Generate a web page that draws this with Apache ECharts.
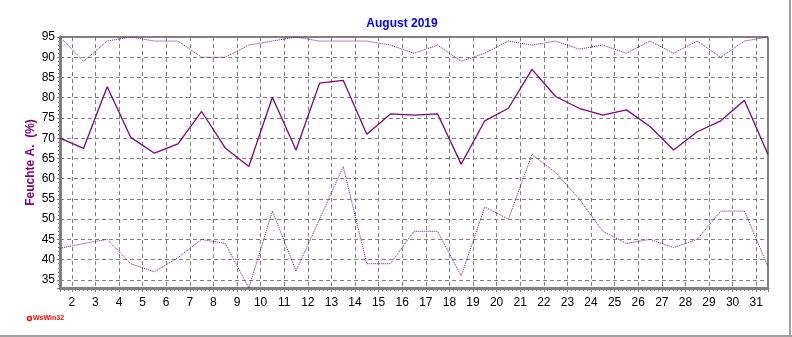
<!DOCTYPE html>
<html>
<head>
<meta charset="utf-8">
<script src="https://cdn.jsdelivr.net/npm/echarts@6/dist/echarts.min.js"></script>
<style>
html,body{margin:0;padding:0;background:#fff;}
#chart{width:792px;height:337px;}
</style>
</head>
<body>
<div id="chart"></div>
<script>
// Day positions (noon of each day of August 2019)
const days = [1,2,3,4,5,6,7,8,9,10,11,12,13,14,15,16,17,18,19,20,21,22,23,24,25,26,27,28,29,30,31];
// Mean humidity (solid)
const avgValues = [70,67.5,82.7,70.2,66.3,68.6,76.6,67.6,63,80.1,67.1,83.6,84.3,71,76,75.7,76,63.6,74.3,77.4,87,80.3,77.4,75.7,77,72.9,67.1,71.6,74.3,79.4,66];
// Maximum humidity (dotted, upper)
const maxValues = [95,89,94,95,94,94,90,90,93,94,95,94,94,94,93,91,93,89,91,94,93,94,92,93,91,94,91,94,90,94,95];
// Minimum humidity (dotted, lower)
const minValues = [42.8,44,45,39,37,40.5,45,44,33,52,37.2,50,63,39,39,47,47,36,53,50,66,61.5,55,47,44,45,43,45,52,52,38.3];
const yTicks = [35,40,45,50,55,60,65,70,75,80,85,90,95];

const toXY = arr => arr.map((v,i) => [days[i] + 0.5, v]);
const purple = '#800080';

const chart = echarts.init(document.getElementById('chart'), null, {renderer:'canvas'});
chart.setOption({
  animation:false,
  backgroundColor:'#ffffff',
  title:{
    text:'August 2019', left:397, top:13, textAlign:'center',
    textStyle:{color:'#0000ff', fontSize:12, fontWeight:'bold', fontFamily:'Liberation Sans, Arial, sans-serif'}
  },
  grid:{left:60, right:24, top:37, bottom:49, show:true, borderColor:'#000', borderWidth:1, containLabel:false},
  xAxis:{
    type:'value', min:1.5, max:31.5, splitNumber:30, minInterval:1, maxInterval:1,
    axisLine:{show:true, onZero:false, lineStyle:{color:'#808080', width:3}},
    axisTick:{show:true, length:4, lineStyle:{color:'#808080'}},
    minorTick:{show:true, splitNumber:6, length:3, lineStyle:{color:'#808080'}},
    splitLine:{show:true, lineStyle:{color:'#808080', type:[4,3], width:1}},
    axisLabel:{color:'#000', fontSize:12, margin:9, fontFamily:'Liberation Sans, Arial, sans-serif',
      formatter: v => (Math.abs(v - Math.round(v)) < 1e-6 && days.indexOf(Math.round(v)) >= 1) ? String(Math.round(v)) : ''}
  },
  yAxis:{
    type:'value', min:33, max:95, splitNumber:12, minInterval:5, maxInterval:5,
    name:'Feuchte A.  (%)', nameLocation:'middle', nameGap:23, nameMoveOverlap:false,
    nameTextStyle:{color:purple, fontSize:12, fontWeight:'bold', fontFamily:'Liberation Sans, Arial, sans-serif'},
    axisLine:{show:true, onZero:false, lineStyle:{color:'#808080', width:3}},
    axisTick:{show:true, length:3, lineStyle:{color:'#808080'}},
    minorTick:{show:true, splitNumber:5, length:2, lineStyle:{color:'#808080'}},
    splitLine:{show:true, lineStyle:{color:'#808080', type:[4,3], width:1}},
    axisLabel:{color:'#000', fontSize:12, margin:5, fontFamily:'Liberation Sans, Arial, sans-serif',
      formatter: v => yTicks.indexOf(v) >= 0 ? String(v) : ''}
  },
  series:[
    {type:'line', data:toXY(maxValues), symbol:'none', lineStyle:{color:purple, width:1, type:[1,1]}},
    {type:'line', data:toXY(minValues), symbol:'none', lineStyle:{color:purple, width:1, type:[1,1]}},
    {type:'line', data:toXY(avgValues), symbol:'none', lineStyle:{color:purple, width:1.3}}
  ],
  graphic:[
    {type:'circle', shape:{cx:29.5, cy:318.5, r:2}, style:{fill:'#fff', stroke:'#ff0000', lineWidth:1.5}},
    {type:'text', left:33, top:315, style:{text:'WsWin32', fill:'#ff0000', font:'bold 7px "Liberation Sans", Arial, sans-serif'}},
    {type:'line', shape:{x1:790, y1:0, x2:790, y2:337}, style:{stroke:'#a0a0a0', lineWidth:2}},
    {type:'line', shape:{x1:0, y1:336, x2:792, y2:336}, style:{stroke:'#a0a0a0', lineWidth:2}}
  ]
});
</script>
</body>
</html>
